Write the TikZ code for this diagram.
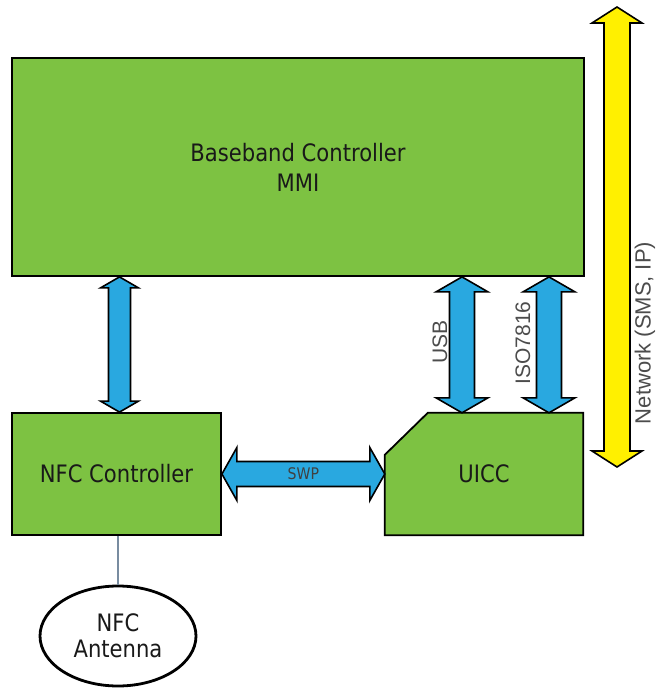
\documentclass[tikz,border=0pt]{standalone}
\usepackage{fontspec}
\setmainfont{DejaVu Sans}[FakeStretch=0.88]
\newfontfamily\arialfont{Liberation Sans}
\usetikzlibrary{shapes.geometric,calc,backgrounds,positioning}

\definecolor{blockgreen}{RGB}{125,194,66}
\definecolor{linkblue}{RGB}{41,168,224}
\definecolor{netyellow}{RGB}{255,240,0}
\definecolor{wire}{RGB}{120,140,160}

% vertical two-headed band: style, top, bottom, shaft half, head half, head length
\newcommand{\vlink}[6]{%
  \draw[#1] (#2) -- ($(#2)+(#5,#6)$) -- ($(#2)+(#4,#6)$) -- ($(#3)+(#4,-#6)$)
    -- ($(#3)+(#5,-#6)$) -- (#3) -- ($(#3)+(-#5,-#6)$) -- ($(#3)+(-#4,-#6)$)
    -- ($(#2)+(-#4,#6)$) -- ($(#2)+(-#5,#6)$) -- cycle;}
% horizontal two-headed band: style, left, right, shaft half, head half, head length
\newcommand{\hlink}[6]{%
  \draw[#1] (#2) -- ($(#2)+(#6,-#5)$) -- ($(#2)+(#6,-#4)$) -- ($(#3)+(-#6,-#4)$)
    -- ($(#3)+(-#6,-#5)$) -- (#3) -- ($(#3)+(-#6,#5)$) -- ($(#3)+(-#6,#4)$)
    -- ($(#2)+(#6,#4)$) -- ($(#2)+(#6,#5)$) -- cycle;}

\begin{document}
\begin{tikzpicture}[x=1pt, y=-1pt,
  block/.style = {rectangle, draw, line width=1.8pt, fill=blockgreen,
                  align=center, text=black!90, font=\fontsize{24}{30}\selectfont},
  link/.style  = {draw, line width=1.6pt, fill=linkblue, line join=miter},
  net/.style   = {draw, line width=1.6pt, fill=netyellow, line join=miter},
  lbl/.style   = {font=\arialfont\fontsize{21}{24}\selectfont, text=black!70},
  ant/.style   = {ellipse, draw, line width=2.8pt, fill=white, align=center,
                  minimum width=156pt, minimum height=100pt, text=black!90,
                  font=\fontsize{24}{26}\selectfont}
]
\useasboundingbox (0,0) rectangle (656,690);

% --- blocks ---
\node[block, minimum width=572pt, minimum height=218pt] (bb) at (298,167)
      {Baseband Controller\\MMI};
\node[block, minimum width=209pt, minimum height=122pt] (nfc) at (116.5,474)
      {NFC Controller};
\node[minimum width=198pt, minimum height=122pt, text=black!90,
      font=\fontsize{24}{30}\selectfont] (uicc) at (484,474) {UICC};
\begin{scope}[on background layer]
  \draw[block] (uicc.south west) -- ($(uicc.north west)+(0,42)$)
        -- ($(uicc.north west)+(43,0)$) -- (uicc.north east)
        -- (uicc.south east) -- cycle;
\end{scope}

\node[ant] (antenna) at (118,636) {NFC\\Antenna};
\draw[line width=1.2pt, color=wire] (nfc.south -| antenna.north) -- (antenna.north);

% --- links ---
\coordinate (mmi-top)  at ($(bb.south -| nfc.north)+(3,0)$);
\coordinate (mmi-bot)  at ($(nfc.north)+(3,0)$);
\coordinate (usb-top)  at (bb.south -| 462,0);
\coordinate (usb-bot)  at (uicc.north -| 462,0);
\coordinate (iso-top)  at (bb.south -| 549,0);
\coordinate (iso-bot)  at (uicc.north -| 549,0);
\coordinate (swp-l)    at (nfc.east);
\coordinate (swp-r)    at (uicc.west |- nfc.east);

\vlink{link}{mmi-top}{mmi-bot}{11}{19}{11}
\vlink{link}{usb-top}{usb-bot}{12.5}{26}{15}
\vlink{link}{iso-top}{iso-bot}{12.5}{26}{15}
\hlink{link}{swp-l}{swp-r}{12.5}{26.5}{15}

\node[font=\fontsize{16}{18}\selectfont, text=black!75] (swp)
      at ($(swp-l)!0.5!(swp-r)$) {SWP};
\node[lbl, rotate=90] (usb) at (440,342) {USB};
\node[lbl, rotate=90] (iso) at (523,343) {ISO7816};

% --- network ---
\coordinate (net-top) at (617,7);
\coordinate (net-bot) at (617,467);
\vlink{net}{net-top}{net-bot}{13}{25}{16}
\node[lbl, font=\arialfont\fontsize{22}{24}\selectfont, rotate=90] (network)
      at (645,333) {Network (SMS, IP)};

\end{tikzpicture}
\end{document}
